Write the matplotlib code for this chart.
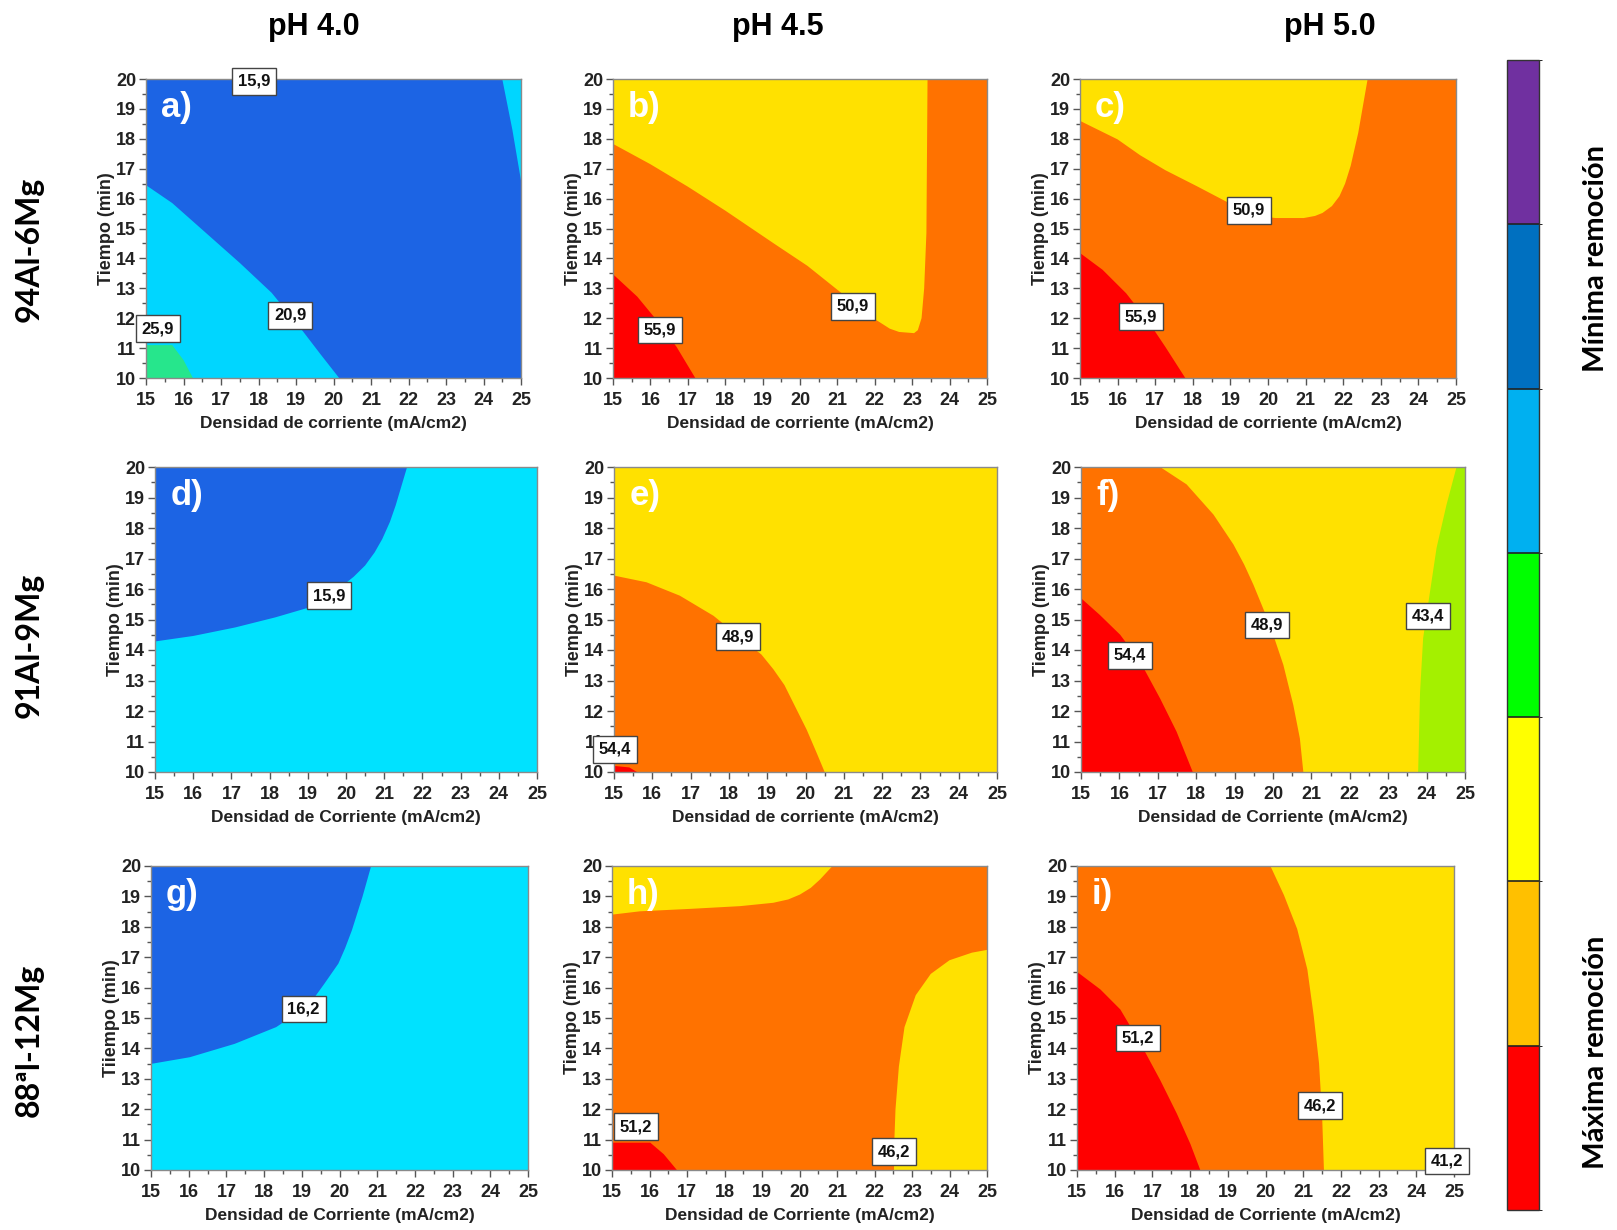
import matplotlib
matplotlib.use("Agg")
import matplotlib.pyplot as plt
from matplotlib.colors import ListedColormap, BoundaryNorm
from matplotlib.cm import ScalarMappable
from matplotlib.ticker import MultipleLocator

plt.rcParams['font.family'] = ['Liberation Sans', 'DejaVu Sans']
plt.rcParams['font.weight'] = 'bold'
plt.rcParams['axes.labelweight'] = 'bold'

W, H = 1617, 1230

# colours of the contour bands
BLUE = '#1C64E4'
CYAN_A = '#00D6FF'
CYAN = '#00E2FF'
GREEN_A = '#26E68C'
ORANGE = '#FF7200'
YELLOW = '#FFE100'
RED = '#FF0000'
LIME = '#A4F000'

# ---- iso-lines (x: mA/cm2, y: min) ----
A_CYAN_X = [15, 15.7, 16.6, 17.5, 18.35, 19.1, 19.65, 20.15]
A_CYAN_Y = [16.45, 15.85, 14.85, 13.85, 12.85, 11.7, 10.8, 10]
A_GREEN_X = [15, 15.7, 16.0, 16.25]
A_GREEN_Y = [11.1, 11.1, 10.6, 10]
A_EDGE_X = [24.5, 24.77, 25]
A_EDGE_Y = [20, 18.3, 16.6]

B_YELLOW_X = [15, 16.0, 17.0, 18.0, 19.3, 20.2, 20.9, 21.5, 22.05, 22.4, 22.65, 23.05, 23.15,
              23.25, 23.32, 23.38, 23.41]
B_YELLOW_Y = [17.83, 17.15, 16.4, 15.6, 14.5, 13.75, 13.05, 12.45, 11.93, 11.65, 11.54, 11.5, 11.6,
              12.0, 13.0, 14.85, 20]
B_RED_X = [15, 15.65, 16.17, 16.7, 17.2]
B_RED_Y = [13.47, 12.72, 11.93, 11.04, 10]

C_YELLOW_X = [15, 16.0, 16.6, 17.27, 18.1, 18.95, 19.8, 20.2, 20.95, 21.25, 21.45, 21.7, 21.9, 22.05,
              22.2, 22.4, 22.65]
C_YELLOW_Y = [18.6, 17.98, 17.45, 16.95, 16.42, 15.86, 15.41, 15.35, 15.35, 15.42, 15.52, 15.75, 16.08,
              16.5, 17.1, 18.2, 20]
C_RED_X = [15, 15.6, 16.23, 16.85, 17.27, 17.8]
C_RED_Y = [14.18, 13.62, 12.83, 11.83, 11.04, 10]

D_BLUE_X = [15, 16.0, 17.1, 18.15, 19.05, 19.5, 19.8, 20.2, 20.5, 20.75, 20.95, 21.15, 21.3, 21.6]
D_BLUE_Y = [14.28, 14.46, 14.74, 15.07, 15.4, 15.65, 16.0, 16.4, 16.77, 17.2, 17.64, 18.2, 18.74, 20]

E_ORANGE_X = [15, 15.85, 16.72, 17.6, 18.46, 18.85, 19.16, 19.45, 19.68, 20.03, 20.29, 20.5]
E_ORANGE_Y = [16.44, 16.22, 15.78, 15.12, 14.24, 13.85, 13.37, 12.85, 12.27, 11.39, 10.63, 10]
E_RED_X = [15, 15.4, 15.6]
E_RED_Y = [10.2, 10.15, 10]

F_ORANGE_X = [17.06, 17.75, 18.45, 18.97, 19.25, 19.49, 19.92, 20.27, 20.53, 20.7, 20.79]
F_ORANGE_Y = [20, 19.43, 18.44, 17.46, 16.8, 16.14, 14.82, 13.51, 12.19, 11.1, 10]
F_RED_X = [15, 15.49, 16.02, 16.54, 17.06, 17.49, 17.91]
F_RED_Y = [15.7, 15.15, 14.5, 13.62, 12.41, 11.32, 10]
F_LIME_X = [24.78, 24.52, 24.26, 24.09, 23.91, 23.83, 23.78]
F_LIME_Y = [20, 18.77, 17.35, 15.92, 14.39, 12.63, 10]

G_BLUE_X = [15, 16.03, 17.22, 18.32, 19.05, 19.35, 19.6, 19.97, 20.15, 20.33, 20.61, 20.84]
G_BLUE_Y = [13.49, 13.71, 14.15, 14.7, 15.3, 15.7, 16.13, 16.79, 17.3, 17.89, 18.99, 20]

H_TOP_X = [15, 15.75, 17.09, 18.42, 19.3, 19.7, 20.01, 20.3, 20.55, 20.88]
H_TOP_Y = [18.4, 18.51, 18.59, 18.68, 18.79, 18.9, 19.06, 19.28, 19.56, 20]
H_RIGHT_X = [25, 24.6, 24.0, 23.5, 23.1, 22.8, 22.65, 22.56, 22.53, 22.52]
H_RIGHT_Y = [17.24, 17.15, 16.9, 16.45, 15.75, 14.7, 13.4, 12.0, 11.0, 10]
H_RED_X = [15, 16.02, 16.38, 16.73]
H_RED_Y = [10.9, 10.9, 10.52, 10]

I_ORANGE_X = [20.13, 20.49, 20.84, 21.11, 21.28, 21.42, 21.5, 21.55]
I_ORANGE_Y = [20, 19.04, 17.93, 16.6, 15.06, 13.51, 11.85, 10]
I_RED_X = [15, 15.62, 16.15, 16.68, 17.21, 17.65, 18.01, 18.27]
I_RED_Y = [16.52, 15.94, 15.28, 14.17, 12.95, 11.85, 10.85, 10]

# contour level labels: value, x, y
A_LABELS = [(15.9, 17.89, 19.92), (25.9, 15.32, 11.65), (20.9, 18.85, 12.1)]
B_LABELS = [(50.9, 21.42, 12.4), (55.9, 16.26, 11.6)]
C_LABELS = [(50.9, 19.49, 15.61), (55.9, 16.61, 12.05)]
D_LABELS = [(15.9, 19.55, 15.78)]
E_LABELS = [(48.9, 18.23, 14.44), (54.4, 15.03, 10.74)]
F_LABELS = [(54.4, 16.28, 13.82), (48.9, 19.84, 14.82), (43.4, 24.03, 15.12)]
G_LABELS = [(16.2, 19.05, 15.3)]
H_LABELS = [(51.2, 15.64, 11.42), (46.2, 22.52, 10.6)]
I_LABELS = [(51.2, 16.61, 14.34), (46.2, 21.44, 12.12), (41.2, 24.82, 10.3)]

COL_TITLES = ['pH 4.0', 'pH 4.5', 'pH 5.0']
ROW_TITLES = ['94Al-6Mg', '91Al-9Mg', '88ªl-12Mg']
XL_LOW = 'Densidad de corriente (mA/cm2)'
XL_UP = 'Densidad de Corriente (mA/cm2)'

CBAR_COLORS = ['#FF0000', '#FFC000', '#FFFF00', '#00FF00', '#00B0F0', '#0070C0', '#7030A0']

# panel: letter, base, regions, labels, xlabel, ylabel, box (left, top, right, bottom px)
panels = [
    ('a)', BLUE, [(CYAN_A, A_CYAN_X, A_CYAN_Y, ['bl']),
                  (GREEN_A, A_GREEN_X, A_GREEN_Y, ['bl']),
                  (CYAN_A, A_EDGE_X, A_EDGE_Y, ['tr'])],
     A_LABELS, XL_LOW, 'Tiempo (min)', (146, 79, 521, 378)),
    ('b)', ORANGE, [(YELLOW, B_YELLOW_X, B_YELLOW_Y, ['tl']),
                    (RED, B_RED_X, B_RED_Y, ['bl'])],
     B_LABELS, XL_LOW, 'Tiempo (min)', (613, 79, 987, 378)),
    ('c)', ORANGE, [(YELLOW, C_YELLOW_X, C_YELLOW_Y, ['tl']),
                    (RED, C_RED_X, C_RED_Y, ['bl'])],
     C_LABELS, XL_LOW, 'Tiempo (min)', (1080, 79, 1456, 378)),
    ('d)', CYAN, [(BLUE, D_BLUE_X, D_BLUE_Y, ['tl'])],
     D_LABELS, XL_UP, 'Tiempo (min)', (155, 467, 537, 772)),
    ('e)', YELLOW, [(ORANGE, E_ORANGE_X, E_ORANGE_Y, ['bl']),
                    (RED, E_RED_X, E_RED_Y, ['bl'])],
     E_LABELS, XL_LOW, 'Tiempo (min)', (614, 467, 997, 772)),
    ('f)', YELLOW, [(ORANGE, F_ORANGE_X, F_ORANGE_Y, ['bl', 'tl']),
                    (RED, F_RED_X, F_RED_Y, ['bl']),
                    (LIME, F_LIME_X, F_LIME_Y, ['br', 'tr'])],
     F_LABELS, XL_UP, 'Tiempo (min)', (1081, 467, 1465, 772)),
    ('g)', CYAN, [(BLUE, G_BLUE_X, G_BLUE_Y, ['tl'])],
     G_LABELS, XL_UP, 'Tiiempo (min)', (151, 866, 528, 1170)),
    ('h)', ORANGE, [(YELLOW, H_TOP_X, H_TOP_Y, ['tl']),
                    (YELLOW, H_RIGHT_X, H_RIGHT_Y, ['br']),
                    (RED, H_RED_X, H_RED_Y, ['bl'])],
     H_LABELS, XL_UP, 'Tiempo (min)', (612, 866, 987, 1170)),
    ('i)', YELLOW, [(ORANGE, I_ORANGE_X, I_ORANGE_Y, ['bl', 'tl']),
                    (RED, I_RED_X, I_RED_Y, ['bl'])],
     I_LABELS, XL_UP, 'Tiempo (min)', (1077, 866, 1454, 1170)),
]

CORNERS = {'bl': (15, 10), 'tl': (15, 20), 'tr': (25, 20), 'br': (25, 10)}

fig = plt.figure(figsize=(W / 100, H / 100), dpi=100)


def px_axes(l, t, r, b):
    return fig.add_axes([l / W, 1 - b / H, (r - l) / W, (b - t) / H])


for letter, base, regions, labels, xl, yl, box in panels:
    ax = px_axes(*box)
    ax.set_facecolor(base)
    for color, xs, ys, corners in regions:
        px = list(xs) + [CORNERS[c][0] for c in corners]
        py = list(ys) + [CORNERS[c][1] for c in corners]
        ax.fill(px, py, color=color, lw=0, zorder=1)
    ax.set_xlim(15, 25)
    ax.set_ylim(10, 20)
    ax.xaxis.set_major_locator(MultipleLocator(1))
    ax.yaxis.set_major_locator(MultipleLocator(1))
    ax.xaxis.set_minor_locator(MultipleLocator(0.5))
    ax.yaxis.set_minor_locator(MultipleLocator(0.5))
    ax.tick_params(which='major', direction='out', length=5, width=1,
                   color='#555555', labelsize=13, labelcolor='#222222', pad=2)
    ax.tick_params(axis='x', which='major', pad=5)
    ax.tick_params(which='minor', direction='out', length=3, width=1, color='#555555')
    for sp in ax.spines.values():
        sp.set_color('#8a8a8a')
        sp.set_linewidth(1)
    ax.set_xlabel(xl, fontsize=12.5, color='#222222', labelpad=5)
    ax.set_ylabel(yl, fontsize=13, color='#222222', labelpad=1)
    ax.text(0.04, 0.96, letter, transform=ax.transAxes, color='white',
            fontsize=25, fontweight='bold', ha='left', va='top', zorder=4)
    for v, x, y in labels:
        ax.text(x, y, f"{v:.1f}".replace('.', ','), fontsize=12, ha='center', va='center',
                color='#111111', zorder=6,
                bbox=dict(boxstyle='square,pad=0.35', fc='white', ec='#444444', lw=1))

# column and row titles
col_x = [314, 778, 1330]
for t, x in zip(COL_TITLES, col_x):
    fig.text(x / W, 1 - 27 / H, t, fontsize=22, fontweight='bold', ha='center', va='center')

row_y = [249, 645, 1040]
for t, y in zip(ROW_TITLES, row_y):
    fig.text(29 / W, 1 - y / H, t, fontsize=23, fontweight='bold', rotation=90,
             ha='center', va='center', family=['Lato', 'DejaVu Sans'])

# colour scale bar
cax = px_axes(1507, 60, 1539, 1210)
cmap = ListedColormap(CBAR_COLORS)
norm = BoundaryNorm(list(range(len(CBAR_COLORS) + 1)), cmap.N)
cb = fig.colorbar(ScalarMappable(norm=norm, cmap=cmap), cax=cax, drawedges=True)
cb.set_ticks([])
cb.outline.set_edgecolor('#333333')
cb.outline.set_linewidth(1)
cb.dividers.set_color('#222222')
cb.dividers.set_linewidth(1.2)

fig.text(1596 / W, 1 - 258 / H, 'Mínima remoción', fontsize=21, fontweight='bold',
         rotation=90, ha='center', va='center', family=['Lato', 'DejaVu Sans'])
fig.text(1596 / W, 1 - 1052 / H, 'Máxima remoción', fontsize=21, fontweight='bold',
         rotation=90, ha='center', va='center', family=['Lato', 'DejaVu Sans'])

fig.savefig('out.png', dpi=100)
